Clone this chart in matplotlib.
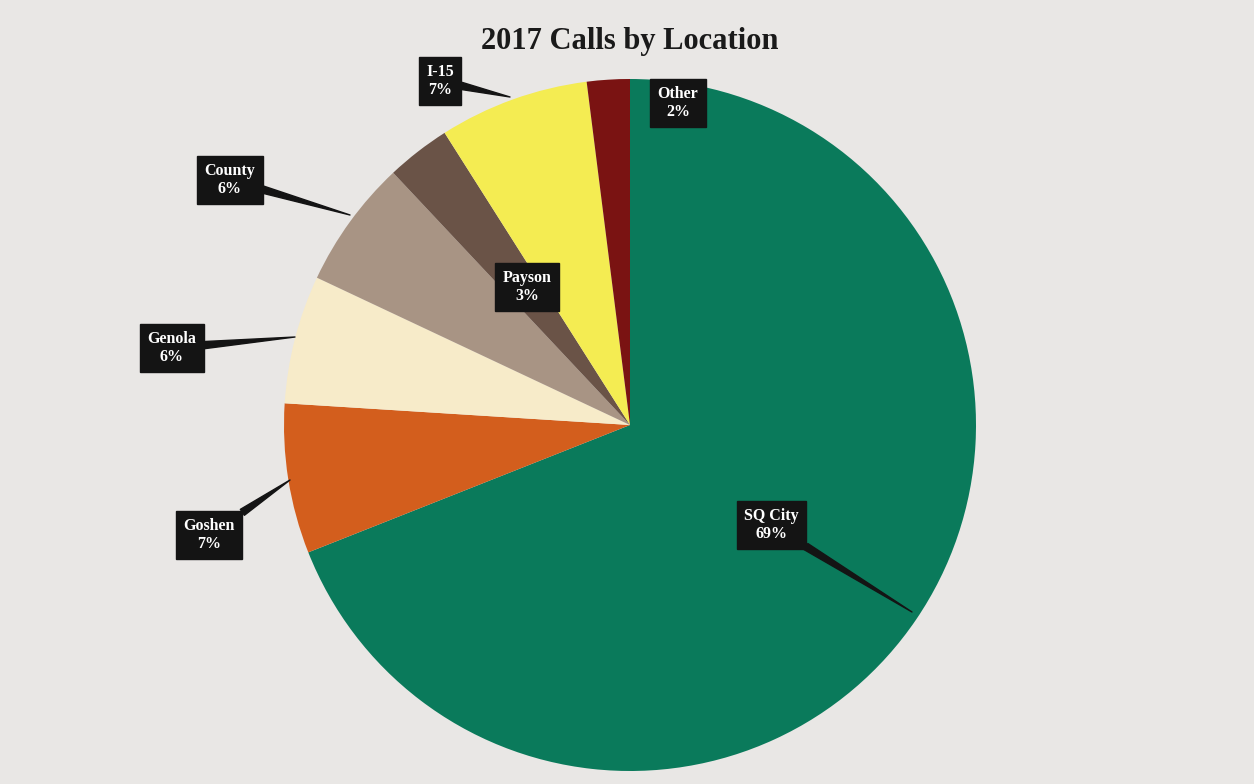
import matplotlib
matplotlib.use("Agg")
import matplotlib.pyplot as plt

# Data (clockwise from 12 o'clock)
locations = ["SQ City", "Goshen", "Genola", "County", "Payson", "I-15", "Other"]
percents = [69, 7, 6, 6, 3, 7, 2]
colors = ["#0a7a5b", "#d35e1d", "#f7ebc9", "#a89484", "#6a5347", "#f4ec52", "#7a1312"]

W, H = 1254, 784
fig = plt.figure(figsize=(W / 100, H / 100), dpi=100, facecolor="#e9e7e5")
ax = fig.add_axes([0, 0, 1, 1])
ax.set_facecolor("#e9e7e5")

cx, cy, r = 630, H - 425, 346
ax.pie(percents, colors=colors, startangle=90, counterclock=False,
       center=(cx, cy), radius=r, frame=True,
       wedgeprops=dict(linewidth=0))
ax.set_xlim(0, W)
ax.set_ylim(0, H)
ax.set_aspect("equal")
ax.axis("off")

fig.text(0.502, 1 - 42 / H, "2017 Calls by Location", ha="center", va="center",
         fontsize=22, fontweight="bold", family="Liberation Serif", color="#1a1a1a")

# label box centers (pixel coords, y from top) and pointer tips
label_pos = {
    "SQ City": ((771, 525), (912, 612)),
    "Goshen": ((209, 535), (290, 480)),
    "Genola": ((172, 348), (295, 337)),
    "County": ((230, 180), (350, 215)),
    "Payson": ((527, 287), None),
    "I-15": ((440, 81), (510, 97)),
    "Other": ((678, 103), None),
}

box = dict(boxstyle="square,pad=0.45", fc="#141414", ec="#141414")
for name, pct in zip(locations, percents):
    (bx, by), tip = label_pos[name]
    txt = f"{name}\n{pct}%"
    kw = dict(ha="center", va="center", color="white", fontsize=11.5,
              family="Liberation Serif", fontweight="bold", linespacing=1.15, bbox=box)
    if tip is None:
        ax.text(bx, H - by, txt, **kw)
    else:
        ax.annotate(txt, xy=(tip[0], H - tip[1]), xytext=(bx, H - by),
                    arrowprops=dict(arrowstyle="wedge,tail_width=0.45,shrink_factor=0.5",
                                    fc="#141414", ec="#141414", shrinkA=0, shrinkB=0),
                    **kw)

fig.savefig("out.png", dpi=100, facecolor=fig.get_facecolor())
